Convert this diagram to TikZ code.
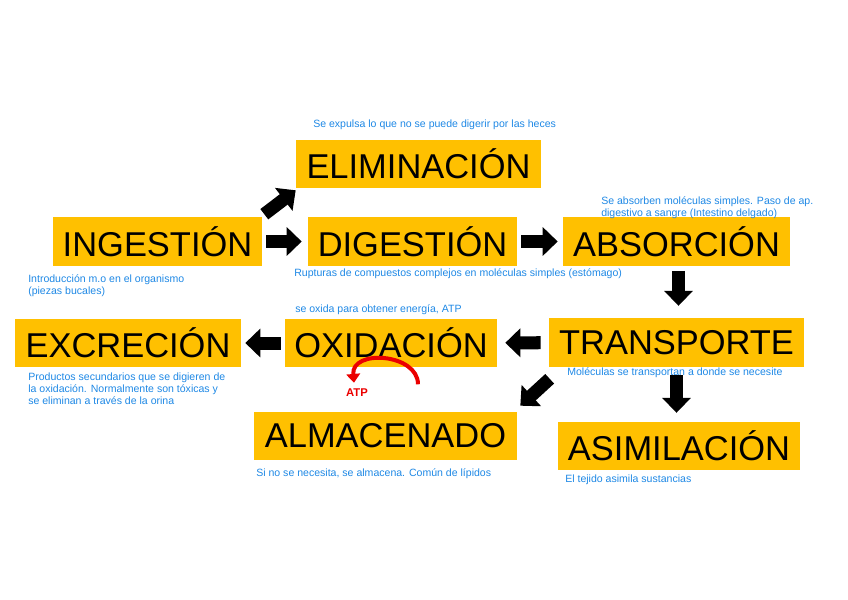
\documentclass[tikz,border=0pt]{standalone}
\usepackage{fontspec}
\setmainfont{Liberation Sans}
\usetikzlibrary{calc,arrows.meta,positioning}
\definecolor{stagefill}{RGB}{255,192,0}
\definecolor{notecol}{RGB}{30,136,229}
\tikzset{
  stage/.style={fill=stagefill, minimum height=1.2cm, inner xsep=2pt,
    font=\fontsize{24.5}{28}\selectfont},
  note/.style={text=notecol, anchor=west, align=left, inner sep=0pt,
    font=\fontsize{7.5}{8.6}\selectfont},
  barr/.style={-{Triangle[length=3.75mm,width=7mm]}, line width=3.25mm, black},
  atparr/.style={-{Triangle[length=2.2mm,width=3.4mm]}, line width=1mm, red!92!black},
  atplabel/.style={text=red!92!black, inner sep=1pt, font=\fontsize{8}{9}\selectfont\bfseries}
}
\begin{document}
\begin{tikzpicture}[x=0.025cm, y=-0.025cm]
  \useasboundingbox (0,0) rectangle (848,599);
  % etapas
  \node[stage, minimum width=6.125cm] (elim) at (418.5,164) {ELIMINACIÓN};
  \node[stage, minimum width=5.225cm] (ing) at (157.5,241.5) {INGESTIÓN};
  \node[stage, minimum width=5.225cm] (dig) at (412.5,241.5) {DIGESTIÓN};
  \node[stage, minimum width=5.675cm] (abs) at (676.5,241.5) {ABSORCIÓN};
  \node[stage, minimum width=5.65cm] (exc) at (128,343) {EXCRECIÓN};
  \node[stage, minimum width=5.3cm] (oxi) at (391,343) {OXIDACIÓN};
  \node[stage, minimum width=6.375cm] (trans) at (676.5,342.5) {TRANSPORTE};
  \node[stage, minimum width=6.575cm] (alm) at (385.5,436) {ALMACENADO};
  \node[stage, minimum width=6.05cm] (asim) at (679,445.5) {ASIMILACIÓN};

  % notas
  \node[note] (nelim) at (313,125) {Se expulsa lo que no se puede digerir por las heces};
  \node[note] (ning) at (28,286) {Introducción m.o en el organismo\\(piezas bucales)};
  \node[note] (ndig) at (294,274) {Rupturas de compuestos complejos en moléculas simples (estómago)};
  \node[note] (noxi) at (295,310) {se oxida para obtener energía, ATP};
  \node[note] (nabs) at (601,208) {Se absorben moléculas simples. Paso de ap.\\digestivo a sangre (Intestino delgado)};
  \node[note] (nexc) at (28,389) {Productos secundarios que se digieren de\\la oxidación. Normalmente son tóxicas y\\se eliminan a través de la orina};
  \node[note] (ntrans) at (567,373) {Moléculas se transportan a donde se necesite};
  \node[note] (nalm) at (256,474) {Si no se necesita, se almacena. Común de lípidos};
  \node[note] (nasim) at (565,480) {El tejido asimila sustancias};

  % flechas
  \draw[barr, shorten <=1mm, shorten >=1.5mm] (ing) -- (dig);
  \draw[barr, shorten <=1mm, shorten >=1.25mm] (dig) -- (abs);
  \draw[barr, shorten <=1.25mm, shorten >=3.1mm] ($(abs.south)+(2,0)$) -- ($(trans.north)+(2,0)$);
  \draw[barr, shorten <=2mm, shorten >=2mm] (trans) -- (oxi);
  \draw[barr, shorten <=1mm, shorten >=1mm] (oxi) -- (exc);
  \draw[barr, shorten <=2.1mm, shorten >=2.1mm] (trans.south) -- (trans.south |- asim.north);
  \draw[barr] ($(ing.north east)+(2,-3)$) -- ($(elim.south west)+(0,2)$);
  \draw[barr] ($(trans.south west)+(1,12)$) -- ($(alm.north east)+(3,-6)$);

  % ATP
  \coordinate (atps) at ($(oxi.south)+(27,17)$);
  \node[atplabel] (atp) at ($(oxi.south)+(-34,25)$) {ATP};
  \draw[atparr] (atps) .. controls +(0,-31) and +(-3,-34) .. ($(atp.north)+(-3,-4)$);
\end{tikzpicture}
\end{document}
